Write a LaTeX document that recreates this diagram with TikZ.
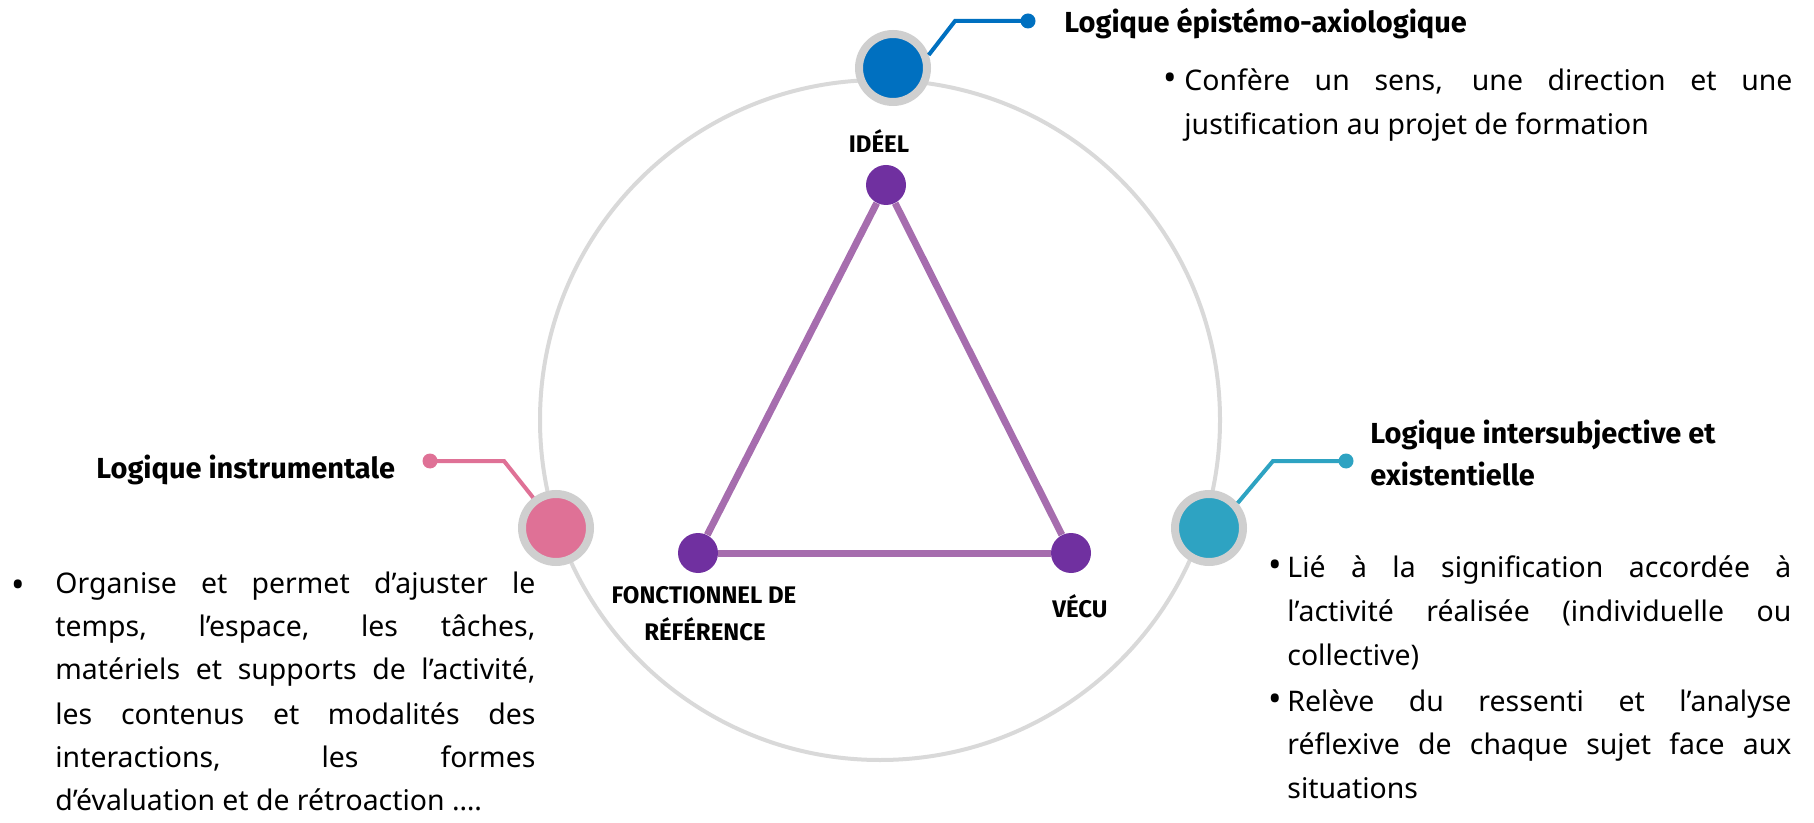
\documentclass[tikz,border=0pt]{standalone}
\usepackage{fontspec}
\setmainfont{Noto Sans}
\newfontfamily\tfont{Fira Sans}
\definecolor{cblue}{HTML}{0070C0}
\definecolor{cpink}{HTML}{DF7196}
\definecolor{cteal}{HTML}{2EA3C2}
\definecolor{cpurple}{HTML}{7030A0}
\definecolor{ctri}{HTML}{A66DAE}
\definecolor{cring}{HTML}{CFCFCF}
\definecolor{cbig}{HTML}{D9D9D9}
\newcommand\jl[2]{\makebox[#1][s]{#2}}
\begin{document}
\begin{tikzpicture}[x=0.5pt,y=-0.5pt,
  body/.style={inner sep=0pt, anchor=base west, font=\fontsize{14.2}{16}\selectfont},
  bul/.style={inner sep=0pt, anchor=base, font=\fontsize{18}{18}\selectfont},
  ttl/.style={inner sep=0pt, anchor=base west, font=\tfont\bfseries\fontsize{14.5}{17}\selectfont},
  lbl/.style={inner sep=0pt, anchor=base, font=\tfont\bfseries\fontsize{12}{14}\selectfont},
  bignode/.style={circle, inner sep=0pt, minimum size=34pt, draw=cring, line width=4pt},
  pnode/.style={circle, inner sep=0pt, minimum size=20pt, fill=cpurple},
  dotn/.style={circle, inner sep=0pt, minimum size=7.5pt},
  conn/.style={line width=2pt},
  tri/.style={line width=3.5pt, draw=ctri}
]
\useasboundingbox (0,0) rectangle (1814,823);
\node[circle, draw=cbig, line width=2pt, inner sep=0pt, minimum size=340pt] (big) at (880,420) {};

% outer nodes
\node[bignode, fill=cblue] (bn) at (893,68) {};
\node[bignode, fill=cpink] (pn) at (556,528) {};
\node[bignode, fill=cteal] (tn) at (1209,528) {};

% connectors
\coordinate (bk) at (955,21);
\node[dotn, fill=cblue] (bd) at (1028,21) {};
\draw[conn, cblue] (bn.20) -- (bk) -- (bd.center);
\coordinate (pk) at (504,461);
\node[dotn, fill=cpink] (pd) at (430,461) {};
\draw[conn, cpink] (pn.127) -- (pk) -- (pd.center);
\coordinate (tk) at (1273,461);
\node[dotn, fill=cteal] (td) at (1346,461) {};
\draw[conn, cteal] (tn.41) -- (tk) -- (td.center);

% triangle
\node[pnode] (pt) at (886,185) {};
\node[pnode] (pl) at (698,553) {};
\node[pnode] (pr) at (1071,553) {};
\draw[tri] (pt) -- (pl);
\draw[tri] (pl) -- (pr);
\draw[tri] (pr) -- (pt);

% labels
\node[lbl] (lid) at (879,153) {IDÉEL};
\node[lbl] (lf1) at (704,603) {FONCTIONNEL DE};
\node[lbl] (lf2) at (705,640) {RÉFÉRENCE};
\node[lbl] (lv) at (1080,617) {VÉCU};

% top block
\node[ttl] (t1) at (1064,33) {Logique épistémo-axiologique};
\node[bul] (b1) at (1170,91) {•};
\node[body] (t1a) at (1184,91) {\jl{304pt}{Confère un sens, une direction et une}};
\node[body] (t1b) at (1184,135) {justification au projet de formation};

% left block
\node[ttl] (t2) at (96,478) {Logique instrumentale};
\node[bul] (b2) at (18,597) {•};
\node[body] (t2a) at (55,593) {\jl{240pt}{Organise et permet d’ajuster le}};
\node[body] (t2b) at (55,636) {\jl{240pt}{temps, l’espace, les tâches,}};
\node[body] (t2c) at (55,679) {\jl{240pt}{matériels et supports de l’activité,}};
\node[body] (t2d) at (55,724) {\jl{240pt}{les contenus et modalités des}};
\node[body] (t2e) at (55,767) {\jl{240pt}{interactions, les formes}};
\node[body] (t2f) at (55,810) {d’évaluation et de rétroaction ….};

% right block
\node[ttl] (t3) at (1370,444) {Logique intersubjective et};
\node[ttl] (t3b) at (1370,485) {existentielle};
\node[bul] (b3) at (1275,577) {•};
\node[body] (t3c) at (1287,577) {\jl{252pt}{Lié à la signification accordée à}};
\node[body] (t3d) at (1287,621) {\jl{252pt}{l’activité réalisée (individuelle ou}};
\node[body] (t3e) at (1287,665) {collective)};
\node[bul] (b4) at (1275,711) {•};
\node[body] (t3f) at (1287,711) {\jl{252pt}{Relève du ressenti et l’analyse}};
\node[body] (t3g) at (1287,754) {\jl{252pt}{réflexive de chaque sujet face aux}};
\node[body] (t3h) at (1287,798) {situations};
\end{tikzpicture}
\end{document}
